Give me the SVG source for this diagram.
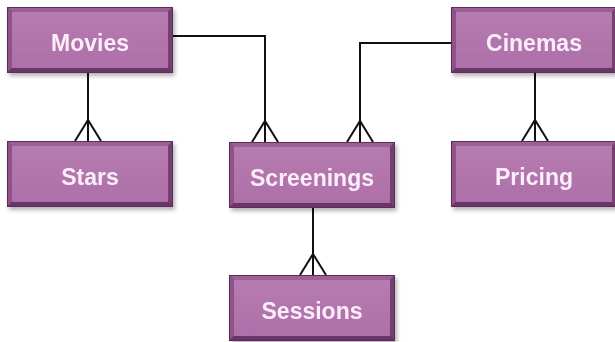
<svg xmlns="http://www.w3.org/2000/svg" width="615" height="342" viewBox="0 0 615 342">
  <defs>
    <linearGradient id="face" x1="0" y1="0" x2="0" y2="1">
      <stop offset="0" stop-color="#b67bb1"/>
      <stop offset="1" stop-color="#ad70a8"/>
    </linearGradient>
    <filter id="shadow" x="-10%" y="-10%" width="130%" height="140%">
      <feGaussianBlur in="SourceAlpha" stdDeviation="2"/>
      <feOffset dx="2" dy="3"/>
      <feComponentTransfer><feFuncA type="linear" slope="0.3"/></feComponentTransfer>
      <feMerge><feMergeNode/><feMergeNode in="SourceGraphic"/></feMerge>
    </filter>
    <!-- beveled entity box, 166 x 66 -->
    <g id="box">
      <rect x="0" y="0" width="166" height="66" fill="#5a2d58"/>
      <polygon points="1,1 165,1 161,5 5,5" fill="#9c5f98"/>
      <polygon points="1,1 5,5 5,61 1,65" fill="#8f528b"/>
      <polygon points="165,1 165,65 161,61 161,5" fill="#74406f"/>
      <polygon points="1,65 5,61 161,61 165,65" fill="#6a3667"/>
      <rect x="5" y="5" width="156" height="56" fill="url(#face)"/>
    </g>
  </defs>
  <style>
    .conn { fill: none; stroke: #111; stroke-width: 2; }
    .label { font-family: "Liberation Sans", Arial, sans-serif; font-weight: bold; font-size: 23px; fill: #fbeefa; text-anchor: middle; }
  </style>

  <g id="connectors">
    <!-- Movies to Stars -->
    <path class="conn" d="M88,73 V141 M75,141 L88,120 L101,141"/>
    <!-- Movies to Screenings -->
    <path class="conn" d="M173,36 H265 V142 M252,142 L265,121 L278,142"/>
    <!-- Cinemas to Screenings -->
    <path class="conn" d="M451,43 H360 V142 M347,142 L360,121 L373,142"/>
    <!-- Cinemas to Pricing -->
    <path class="conn" d="M535,73 V141 M522,141 L535,120 L548,141"/>
    <!-- Screenings to Sessions -->
    <path class="conn" d="M313,208 V275 M300,275 L313,254 L326,275"/>
  </g>

  <g id="movies" filter="url(#shadow)">
    <use href="#box" x="7" y="7"/>
    <text class="label" x="90" y="51">Movies</text>
  </g>
  <g id="stars" filter="url(#shadow)">
    <use href="#box" x="7" y="141"/>
    <text class="label" x="90" y="185">Stars</text>
  </g>
  <g id="screenings" filter="url(#shadow)">
    <use href="#box" x="229" y="142"/>
    <text class="label" x="312" y="186">Screenings</text>
  </g>
  <g id="sessions" filter="url(#shadow)">
    <use href="#box" x="229" y="275"/>
    <text class="label" x="312" y="319">Sessions</text>
  </g>
  <g id="cinemas" filter="url(#shadow)">
    <use href="#box" x="451" y="7"/>
    <text class="label" x="534" y="51">Cinemas</text>
  </g>
  <g id="pricing" filter="url(#shadow)">
    <use href="#box" x="451" y="141"/>
    <text class="label" x="534" y="185">Pricing</text>
  </g>
</svg>
